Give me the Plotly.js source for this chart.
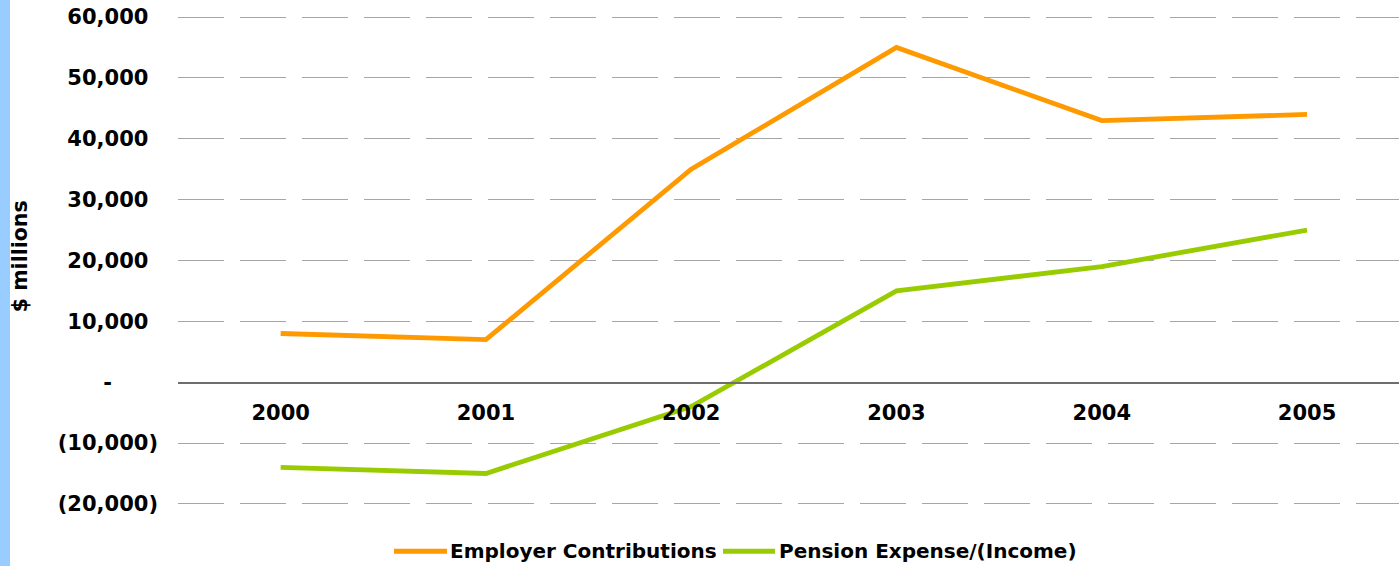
<!DOCTYPE html>
<html>
<head>
<meta charset="utf-8">
<script src="https://cdn.plot.ly/plotly-3.0.1.min.js"></script>
<style>
  html, body { margin: 0; padding: 0; background: #fff; overflow: hidden; }
  #bar { position: absolute; left: 0; top: 0; width: 10px; height: 566px; background: #99CCFF; z-index: 5; }
  #chart { position: absolute; left: 0; top: 0; width: 1399px; height: 566px; }
</style>
</head>
<body>
<div id="chart"></div>
<div id="bar"></div>
<script>
const years = ['2000', '2001', '2002', '2003', '2004', '2005'];
const seriesNames = ['Employer Contributions', 'Pension Expense/(Income)'];
const employer = [8000, 7000, 35000, 55000, 43000, 44000];
const pension = [-14000, -15000, -4000, 15000, 19000, 25000];
const yTickVals = [-20000, -10000, 0, 10000, 20000, 30000, 40000, 50000, 60000];
const yTickLabels = ['(20,000)', '(10,000)', '-', '10,000', '20,000', '30,000', '40,000', '50,000', '60,000'];
const yTitle = '$ millions';
const colors = ['#FF9900', '#99CC00'];

const FONT = 'DejaVu Sans, Verdana, sans-serif';
const hide = s => '<span style="color:rgba(0,0,0,0)">' + s + '</span>';
const tickText = yTickVals.map((v, i) => {
  if (v > 0) return yTickLabels[i] + hide(')');
  if (v === 0) return yTickLabels[i] + hide('\u00a000)');
  return yTickLabels[i];
});

const traces = [employer, pension].map((vals, i) => ({
  type: 'scatter', mode: 'lines', x: years, y: vals, name: seriesNames[i],
  line: { color: colors[i], width: 4.8 }, showlegend: false, hoverinfo: 'skip'
}));

// y scale: 10,000 units = 60.83 px, 0 at y=382
const PAD = 1000;
const yMin = -20000 - PAD, yMax = 60000 + PAD;
const pxPerUnit = 60.83 / 10000;
const H = 566;
const plotT = 382 - yMax * pxPerUnit, plotB = 382 - yMin * pxPerUnit;
const plotH = plotB - plotT;
const plotL = 178, plotW = 1399 - 178;
const px = p => (p - plotL) / plotW;
const py = p => (plotB - p) / plotH;

// custom legend (line samples + labels)
const legY = py(551);
const legendItems = [
  { x0: 394, x1: 447, tx: 448 },
  { x0: 723, x1: 775, tx: 777 }
];
const shapes = legendItems.map((it, i) => ({
  type: 'line', xref: 'paper', yref: 'paper', x0: px(it.x0), x1: px(it.x1), y0: legY, y1: legY,
  line: { color: colors[i], width: 4.8 }
}));
const annotations = legendItems.map((it, i) => ({
  xref: 'paper', yref: 'paper', x: px(it.tx), y: legY, xanchor: 'left', yanchor: 'middle',
  text: seriesNames[i], showarrow: false, font: { family: FONT, size: 20, color: '#000', weight: 'bold' }
}));
annotations.push({
  xref: 'paper', yref: 'paper', x: px(20), y: py(256), xanchor: 'center', yanchor: 'middle',
  textangle: -90, text: yTitle, showarrow: false,
  font: { family: FONT, size: 20.5, color: '#000', weight: 'bold' }
});

const layout = {
  width: 1399, height: H,
  margin: { l: plotL, r: 0, t: plotT, b: H - plotB, pad: 0 },
  paper_bgcolor: '#fff', plot_bgcolor: '#fff',
  showlegend: false,
  xaxis: {
    type: 'category', range: [-0.5, 5.448], anchor: 'free', position: (0 - yMin) / (yMax - yMin),
    showline: true, linecolor: '#6e6e6e', linewidth: 1.5,
    showgrid: false, zeroline: false, ticks: '', ticklabelstandoff: 11,
    tickfont: { family: FONT, size: 21, color: '#000', weight: 'bold' },
    fixedrange: true
  },
  yaxis: {
    range: [yMin, yMax], tickvals: yTickVals, ticktext: tickText,
    showgrid: true, gridcolor: '#a6a6a6', gridwidth: 1, griddash: '46px,16px',
    zeroline: false, showline: false, ticks: '', ticklabelstandoff: 19,
    tickfont: { family: FONT, size: 21, color: '#000', weight: 'bold' },
    fixedrange: true
  },
  shapes: shapes,
  annotations: annotations
};

Plotly.newPlot('chart', traces, layout, { displayModeBar: false, staticPlot: true });
</script>
</body>
</html>
